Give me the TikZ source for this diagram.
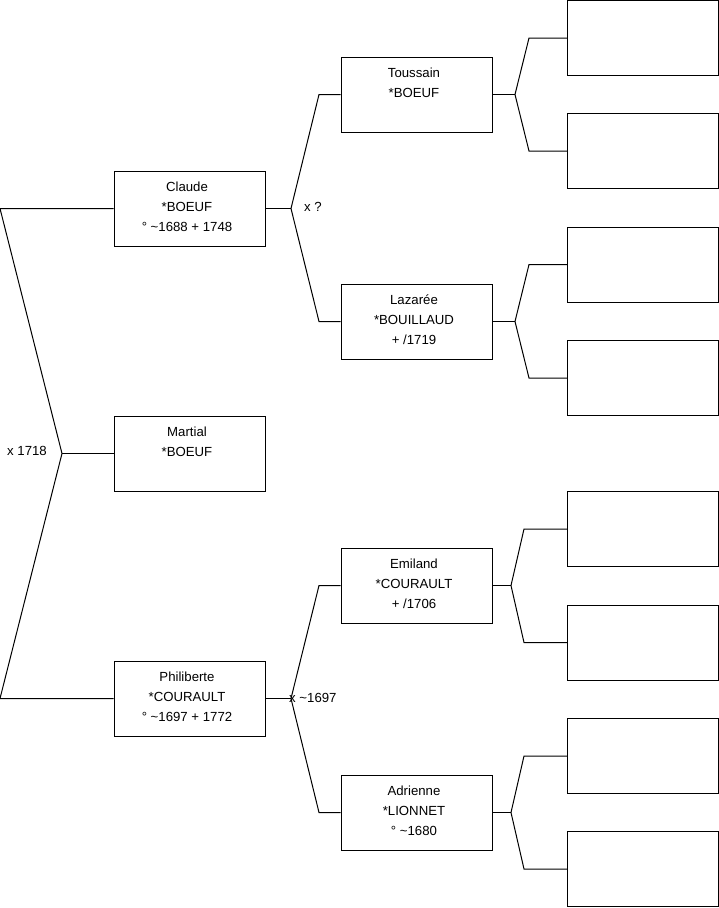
\documentclass[tikz,border=0pt]{standalone}
\usepackage{fontspec}
\setmainfont{Liberation Sans}
\usetikzlibrary{positioning}

\begin{document}
\begin{tikzpicture}[x=1pt, y=-1pt]
  \tikzset{
    person_box/.style={draw, line width=1pt, minimum width=151pt, minimum height=75pt, inner sep=0pt},
    person_text/.style={align=center, anchor=north, inner sep=0pt, xshift=-2.5pt, font=\fontsize{13.2}{20}\selectfont},
    union_text/.style={anchor=west, inner sep=0pt, font=\fontsize{13.2}{15}\selectfont},
    link/.style={line width=1pt}
  }

  % Bounding box pour garder les marges de la figure
  \useasboundingbox (0,0) rectangle (719,908);

  % Enfants (colonne de gauche)
  \node[person_box] (claude) at (189.5,208.5) {};
  \node[person_box] (martial) at (189.5,453.5) {};
  \node[person_box] (philiberte) at (189.5,698.5) {};
  \node[person_text, below=11.5pt of claude.north] {Claude\\*BOEUF\\° \textasciitilde1688 + 1748};
  \node[person_text, below=11.5pt of martial.north] {Martial\\*BOEUF};
  \node[person_text, below=11.5pt of philiberte.north] {Philiberte\\*COURAULT\\° \textasciitilde1697 + 1772};

  % Parents
  \node[person_box] (toussain) at (416.5,94.5) {};
  \node[person_box] (lazaree) at (416.5,321.5) {};
  \node[person_box] (emiland) at (416.5,585.5) {};
  \node[person_box] (adrienne) at (416.5,812.5) {};
  \node[person_text, below=11.5pt of toussain.north] {Toussain\\*BOEUF};
  \node[person_text, below=11.5pt of lazaree.north] {Lazarée\\*BOUILLAUD\\+ /1719};
  \node[person_text, below=11.5pt of emiland.north] {Emiland\\*COURAULT\\+ /1706};
  \node[person_text, below=11.5pt of adrienne.north] {Adrienne\\*LIONNET\\° \textasciitilde1680};

  % Grands-parents (cases vides)
  \node[person_box] (toussain_top) at (643,38) {};
  \node[person_box] (toussain_bottom) at (643,151) {};
  \node[person_box] (lazaree_top) at (643,264.5) {};
  \node[person_box] (lazaree_bottom) at (643,378) {};
  \node[person_box] (emiland_top) at (643,529) {};
  \node[person_box] (emiland_bottom) at (643,642.5) {};
  \node[person_box] (adrienne_top) at (643,756) {};
  \node[person_box] (adrienne_bottom) at (643,869) {};

  % Fratrie (accolade de gauche)
  \coordinate (siblings_top) at (0,208.5);
  \coordinate (siblings) at (62,453.5);
  \coordinate (siblings_bottom) at (0,698.5);
  \draw[link] (claude.west) -- (siblings_top) -- (siblings) -- (siblings_bottom) -- (philiberte.west);
  \draw[link] (siblings) -- (martial.west);
  \node[union_text] (union_siblings) at (7,451) {x 1718};

  % Parents de Claude
  \coordinate (claude_j) at (291,208.5);
  \coordinate (claude_up) at (319,94.5);
  \coordinate (claude_down) at (319,321.5);
  \draw[link] (claude.east) -- (claude_j);
  \draw[link] (claude_j) -- (claude_up) -- (toussain.west);
  \draw[link] (claude_j) -- (claude_down) -- (lazaree.west);
  \node[union_text] (union_claude) at (304,207) {x ?};

  % Parents de Philiberte
  \coordinate (philiberte_j) at (291,698.5);
  \coordinate (philiberte_up) at (319,585.5);
  \coordinate (philiberte_down) at (319,812.5);
  \draw[link] (philiberte.east) -- (philiberte_j);
  \draw[link] (philiberte_j) -- (philiberte_up) -- (emiland.west);
  \draw[link] (philiberte_j) -- (philiberte_down) -- (adrienne.west);
  \node[union_text] (union_philiberte) at (289,698) {x \textasciitilde1697};

  % Parents de Toussain
  \coordinate (toussain_j) at (515,94.5);
  \coordinate (toussain_up) at (529,38);
  \coordinate (toussain_down) at (529,151);
  \draw[link] (toussain.east) -- (toussain_j);
  \draw[link] (toussain_j) -- (toussain_up) -- (toussain_top.west);
  \draw[link] (toussain_j) -- (toussain_down) -- (toussain_bottom.west);

  % Parents de Lazarée
  \coordinate (lazaree_j) at (515,321.5);
  \coordinate (lazaree_up) at (529,264.5);
  \coordinate (lazaree_down) at (529,378);
  \draw[link] (lazaree.east) -- (lazaree_j);
  \draw[link] (lazaree_j) -- (lazaree_up) -- (lazaree_top.west);
  \draw[link] (lazaree_j) -- (lazaree_down) -- (lazaree_bottom.west);

  % Parents d'Emiland
  \coordinate (emiland_j) at (511,585.5);
  \coordinate (emiland_up) at (524,529);
  \coordinate (emiland_down) at (524,642.5);
  \draw[link] (emiland.east) -- (emiland_j);
  \draw[link] (emiland_j) -- (emiland_up) -- (emiland_top.west);
  \draw[link] (emiland_j) -- (emiland_down) -- (emiland_bottom.west);

  % Parents d'Adrienne
  \coordinate (adrienne_j) at (511,812.5);
  \coordinate (adrienne_up) at (524,756);
  \coordinate (adrienne_down) at (524,869);
  \draw[link] (adrienne.east) -- (adrienne_j);
  \draw[link] (adrienne_j) -- (adrienne_up) -- (adrienne_top.west);
  \draw[link] (adrienne_j) -- (adrienne_down) -- (adrienne_bottom.west);
\end{tikzpicture}
\end{document}
